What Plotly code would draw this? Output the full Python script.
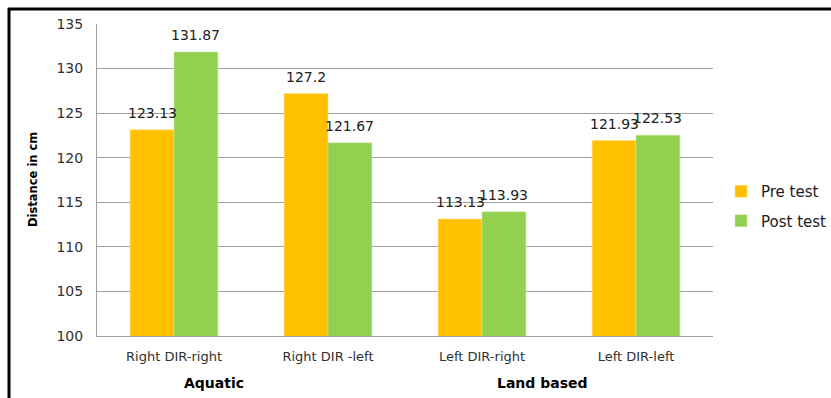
import plotly.graph_objects as go

# Balance test distances (cm), pre vs post training
categories = ["Right DIR-right", "Right DIR -left", "Left DIR-right", "Left DIR-left"]
pre_test = [123.13, 127.2, 113.13, 121.93]
post_test = [131.87, 121.67, 113.93, 122.53]
y_ticks = [100, 105, 110, 115, 120, 125, 130, 135]
groups = ["Aquatic", "Land based"]

W, H = 831, 398
ML, MR, MT, MB = 97, 118, 24, 62
PW, PH = W - ML - MR, H - MT - MB

def px_x(px):
    return (px - ML) / PW

def px_y(py):
    return (H - MB - py) / PH

ORANGE = "#FFC000"
GREEN = "#92D050"
FONT = "DejaVu Sans"

fig = go.Figure()
fig.add_trace(go.Bar(name="Pre test", x=categories, y=pre_test, legendgroup="pre",
                     marker=dict(color=ORANGE, line=dict(color="#FFE08A", width=0.5))))
fig.add_trace(go.Bar(name="Post test", x=categories, y=post_test, legendgroup="post",
                     marker=dict(color=GREEN, line=dict(color="#C5EBA0", width=0.5))))

annotations = []
# value labels above each bar
for i, cat in enumerate(categories):
    for vals, off in ((pre_test, -0.5), (post_test, 0.5)):
        v = vals[i]
        annotations.append(dict(
            x=i + off * 0.285, y=v, xref="x", yref="y", text=f"{v:g}",
            showarrow=False, yanchor="bottom", yshift=7,
            font=dict(family=FONT, size=14, color="#202020")))

# group labels under the categories
for name, cx in zip(groups, (214, 542)):
    annotations.append(dict(
        x=px_x(cx), y=px_y(383), xref="paper", yref="paper", text=f"<b>{name}</b>",
        showarrow=False, xanchor="center", yanchor="middle",
        font=dict(family=FONT, size=14, color="#000000")))

# y-axis title
annotations.append(dict(
    x=px_x(33), y=px_y(180), xref="paper", yref="paper", text="<b>Distance in cm</b>",
    showarrow=False, textangle=-90, xanchor="center", yanchor="middle",
    font=dict(family=FONT, size=11.5, color="#000000")))

shapes = [
    # frame: top and left edges
    dict(type="line", xref="paper", yref="paper", x0=px_x(8), x1=px_x(W + 2),
         y0=px_y(9), y1=px_y(9), line=dict(color="#000000", width=3)),
    dict(type="line", xref="paper", yref="paper", x0=px_x(9), x1=px_x(9),
         y0=px_y(8), y1=px_y(H + 2), line=dict(color="#000000", width=3)),
]

fig.update_layout(
    width=W, height=H,
    margin=dict(l=ML, r=MR, t=MT, b=MB, autoexpand=False),
    paper_bgcolor="white", plot_bgcolor="white",
    barmode="group", bargap=0.43, bargroupgap=0,
    font=dict(family=FONT, size=13, color="#404040"),
    showlegend=True,
    legend=dict(x=px_x(721), y=px_y(175), xanchor="left", yanchor="top",
                font=dict(family=FONT, size=15, color="#202020"),
                traceorder="grouped", itemwidth=30, tracegroupgap=7,
                bgcolor="rgba(0,0,0,0)"),
    annotations=annotations,
    shapes=shapes,
)
fig.update_xaxes(showline=True, linecolor="#A0A0A0", linewidth=1,
                 ticks="outside", ticklen=8, tickcolor="rgba(0,0,0,0)",
                 tickfont=dict(family=FONT, size=13, color="#303030"),
                 showgrid=False)
fig.update_yaxes(range=[100, 135], tickvals=y_ticks, showline=True,
                 linecolor="#A0A0A0", linewidth=1, showgrid=True,
                 gridcolor="#A0A0A0", gridwidth=1,
                 ticks="outside", ticklen=10, tickcolor="rgba(0,0,0,0)",
                 tickfont=dict(family=FONT, size=14, color="#303030"),
                 zeroline=False)

fig.write_html("out.html")
